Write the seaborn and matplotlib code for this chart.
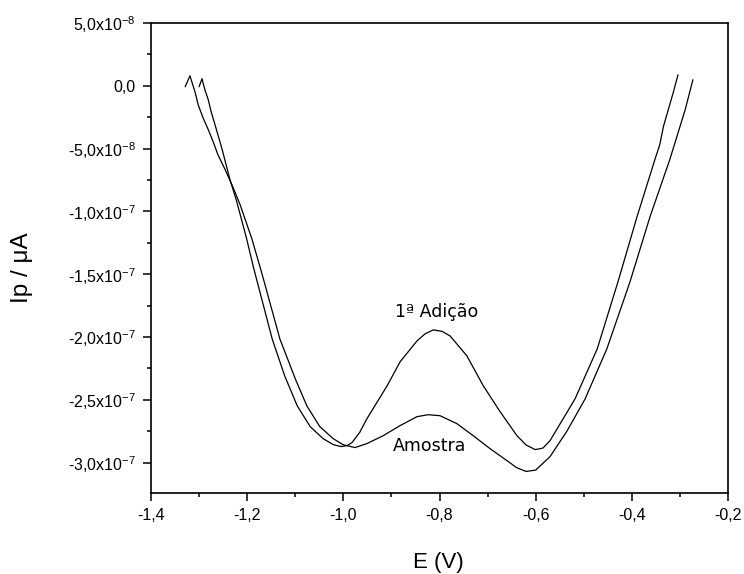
import numpy as np
import pandas as pd
import matplotlib
matplotlib.use("Agg")
import matplotlib.pyplot as plt
import seaborn as sns

# ---- data (E in V, I in units of 1e-7) ----
adicao_E = [-1.300, -1.294, -1.288, -1.281, -1.275, -1.267, -1.261, -1.252, -1.244, -1.236,
            -1.223, -1.202, -1.186, -1.167, -1.148, -1.122, -1.096, -1.069, -1.042, -1.021,
            -1.005, -0.992, -0.982, -0.966, -0.951, -0.930, -0.909, -0.882, -0.847, -0.830,
            -0.813, -0.795, -0.778, -0.743, -0.709, -0.674, -0.639, -0.620, -0.601, -0.585,
            -0.570, -0.518, -0.472, -0.429, -0.389, -0.352, -0.342, -0.334, -0.314, -0.304]
adicao_I = [-0.008, 0.056, -0.032, -0.111, -0.206, -0.310, -0.389, -0.508, -0.627, -0.746,
            -0.905, -1.206, -1.460, -1.738, -2.016, -2.310, -2.548, -2.714, -2.810, -2.857,
            -2.873, -2.865, -2.841, -2.760, -2.651, -2.520, -2.389, -2.198, -2.032, -1.975,
            -1.944, -1.955, -1.992, -2.151, -2.389, -2.595, -2.786, -2.860, -2.897, -2.885,
            -2.825, -2.492, -2.095, -1.563, -1.040, -0.587, -0.470, -0.320, -0.056, 0.087]

amostra_E = [-1.329, -1.319, -1.308, -1.302, -1.292, -1.281, -1.271, -1.261, -1.246, -1.232,
             -1.215, -1.190, -1.169, -1.132, -1.100, -1.076, -1.049, -1.021, -1.001, -0.976,
             -0.951, -0.917, -0.882, -0.847, -0.824, -0.799, -0.764, -0.730, -0.695, -0.660,
             -0.640, -0.620, -0.600, -0.570, -0.535, -0.497, -0.452, -0.404, -0.362, -0.321,
             -0.289, -0.273]
amostra_I = [-0.008, 0.079, -0.056, -0.151, -0.254, -0.349, -0.444, -0.548, -0.667, -0.786,
             -0.944, -1.222, -1.500, -2.016, -2.333, -2.548, -2.714, -2.810, -2.857, -2.881,
             -2.849, -2.786, -2.706, -2.635, -2.619, -2.627, -2.690, -2.786, -2.889, -2.984,
             -3.040, -3.071, -3.060, -2.952, -2.750, -2.492, -2.095, -1.563, -1.040, -0.587,
             -0.190, 0.048]

x_ticks = [-1.4, -1.2, -1.0, -0.8, -0.6, -0.4, -0.2]
x_tick_labels = ["-1,4", "-1,2", "-1,0", "-0,8", "-0,6", "-0,4", "-0,2"]
y_ticks = [5e-8, 0.0, -5e-8, -1e-7, -1.5e-7, -2e-7, -2.5e-7, -3e-7]
y_tick_labels = ["5,0x10$^{-8}$", "0,0", "-5,0x10$^{-8}$", "-1,0x10$^{-7}$",
                 "-1,5x10$^{-7}$", "-2,0x10$^{-7}$", "-2,5x10$^{-7}$", "-3,0x10$^{-7}$"]

df = pd.concat([
    pd.DataFrame({"E": adicao_E, "I": np.array(adicao_I) * 1e-7, "s": "1ª Adição"}),
    pd.DataFrame({"E": amostra_E, "I": np.array(amostra_I) * 1e-7, "s": "Amostra"}),
], ignore_index=True)

sns.set_style("ticks")
plt.rcParams["font.family"] = ["Liberation Sans", "DejaVu Sans"]
plt.rcParams["mathtext.fontset"] = "custom"
plt.rcParams["mathtext.rm"] = "Liberation Sans"
plt.rcParams["mathtext.it"] = "Liberation Sans"
plt.rcParams["text.color"] = "black"
plt.rcParams["axes.labelcolor"] = "black"

fig = plt.figure(figsize=(7.44, 5.74), dpi=100)
ax = fig.add_axes([0.203, 0.141, 0.7755, 0.819])

sns.lineplot(data=df, x="E", y="I", hue="s", units="s", estimator=None, sort=False,
             palette=["black", "black"], linewidth=0.9, legend=False, ax=ax)

ax.set_xlim(-1.4, -0.2)
ax.set_ylim(-3.243e-7, 5e-8)
ax.set_xticks(x_ticks)
ax.set_xticklabels(x_tick_labels)
ax.set_yticks(y_ticks)
ax.set_yticklabels(y_tick_labels)
ax.set_xticks([-1.3, -1.1, -0.9, -0.7, -0.5, -0.3], minor=True)
ax.set_yticks([2.5e-8, -2.5e-8, -7.5e-8, -1.25e-7, -1.75e-7, -2.25e-7, -2.75e-7], minor=True)

ax.tick_params(axis="both", which="major", direction="out", length=6, width=1.1,
               labelsize=11.5, pad=5, colors="black")
ax.tick_params(axis="both", which="minor", direction="out", length=3, width=1.1,
               colors="black")
for sp in ax.spines.values():
    sp.set_visible(True)
    sp.set_linewidth(1.2)
    sp.set_color("black")

ax.set_xlabel("E (V)", fontsize=16, color="black")
ax.set_ylabel("Ip / μA", fontsize=17.5, color="black")
ax.xaxis.set_label_coords(0.498, -0.126)
ax.yaxis.set_label_coords(-0.205, 0.479)

ax.text(-0.805, -1.80e-7, "1ª Adição", fontsize=12.5, family="DejaVu Sans",
        color="black", ha="center", va="center")
ax.text(-0.820, -2.865e-7, "Amostra", fontsize=12.5, family="DejaVu Sans",
        color="black", ha="center", va="center")

fig.savefig("out.png", dpi=100)
